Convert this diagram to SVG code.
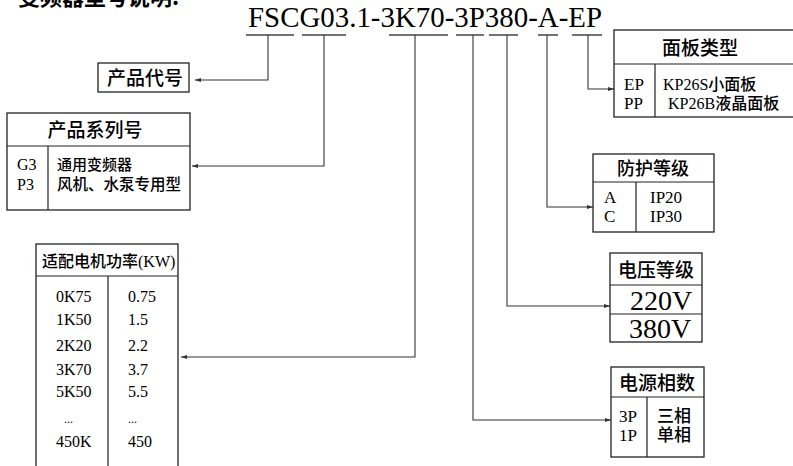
<svg xmlns="http://www.w3.org/2000/svg" width="793" height="466" viewBox="0 0 793 466">
<style>
.bg{fill:#fff}
.box{fill:#fff;stroke:#222;stroke-width:1.3}
.ln{stroke:#222;stroke-width:1.2;fill:none}
.cn{stroke:#333;stroke-width:1.1;fill:none}
.ul{stroke:#444;stroke-width:1.3;fill:none}
.cjk{font-family:"Noto Sans CJK SC","Noto Sans",sans-serif;fill:#000;font-weight:500}
.tm{font-family:"Liberation Serif","Noto Sans CJK SC",serif;fill:#000}
</style>
<defs>
<marker id="arr" viewBox="0 0 6 6" refX="6" refY="3" markerWidth="6" markerHeight="6" markerUnits="userSpaceOnUse" orient="auto">
<path d="M0,1 L6,3 L0,5 Z" fill="#333"/>
</marker>
</defs>
<rect class="bg" x="0" y="0" width="793" height="466"/>
<g id="title">
<text class="cjk" x="18" y="5" font-size="22" font-weight="bold" style="font-weight:bold">变频器型号说明:</text>
</g>
<g id="code">
<text class="tm" x="248" y="27" font-size="29" textLength="354" lengthAdjust="spacingAndGlyphs">FSCG03.1-3K70-3P380-A-EP</text>
<path class="ul" d="M246,35H294 M302,35H346 M389,35H448 M456,35H484 M489,35H518 M538,35H558 M572,35H602"/>
</g>
<g id="connectors">
<path class="cn" d="M268,35V80H195" marker-end="url(#arr)"/>
<path class="cn" d="M324,35V166H192" marker-end="url(#arr)"/>
<path class="cn" d="M415,35V357H181" marker-end="url(#arr)"/>
<path class="cn" d="M473,35V420H611" marker-end="url(#arr)"/>
<path class="cn" d="M507,35V306H610" marker-end="url(#arr)"/>
<path class="cn" d="M547,35V207H593" marker-end="url(#arr)"/>
<path class="cn" d="M588,35V89H614" marker-end="url(#arr)"/>
</g>
<g id="product-code">
<rect class="box" x="98" y="63" width="91" height="29"/>
<text class="cjk" x="107" y="85" font-size="19">产品代号</text>
</g>
<g id="series">
<rect class="box" x="7" y="113" width="183" height="97"/>
<path class="ln" d="M7,146H190 M48,146V210"/>
<text class="cjk" x="95" y="137" font-size="19" text-anchor="middle">产品系列号</text>
<text class="tm" x="17" y="170" font-size="16">G3</text>
<text class="tm" x="17" y="190" font-size="16">P3</text>
<text class="cjk" x="57" y="170" font-size="15">通用变频器</text>
<text class="cjk" x="57" y="190" font-size="15.5">风机、水泵专用型</text>
</g>
<g id="power">
<rect class="box" x="36" y="244" width="142" height="240"/>
<path class="ln" d="M36,276H178 M108,276V470"/>
<text x="42" y="267" font-size="16"><tspan class="cjk">适配电机功率</tspan><tspan class="tm">(KW)</tspan></text>
<g class="tm" font-size="16">
<text x="56" y="302">0K75</text><text x="128" y="302">0.75</text>
<text x="56" y="325">1K50</text><text x="128" y="325">1.5</text>
<text x="56" y="351">2K20</text><text x="128" y="351">2.2</text>
<text x="56" y="375">3K70</text><text x="128" y="375">3.7</text>
<text x="56" y="397">5K50</text><text x="128" y="397">5.5</text>
<text x="64" y="423" font-size="12">...</text><text x="128" y="423" font-size="12">...</text>
<text x="56" y="447">450K</text><text x="128" y="447">450</text>
</g>
</g>
<g id="panel">
<rect class="box" x="614" y="30" width="190" height="87"/>
<path class="ln" d="M614,64H804 M655,64V117"/>
<text class="cjk" x="700" y="55" font-size="19" text-anchor="middle">面板类型</text>
<text class="tm" x="624" y="90" font-size="17">EP</text>
<text class="tm" x="624" y="109" font-size="17">PP</text>
<text x="663" y="90" font-size="16"><tspan class="tm">KP26S</tspan><tspan class="cjk">小面板</tspan></text>
<text x="668" y="109" font-size="16"><tspan class="tm">KP26B</tspan><tspan class="cjk">液晶面板</tspan></text>
</g>
<g id="protection">
<rect class="box" x="593" y="154" width="121" height="78"/>
<path class="ln" d="M593,182H714 M636,182V232"/>
<text class="cjk" x="653" y="175" font-size="18" text-anchor="middle">防护等级</text>
<text class="tm" x="604" y="203" font-size="17">A</text>
<text class="tm" x="604" y="222" font-size="17">C</text>
<text class="tm" x="650" y="203" font-size="17">IP20</text>
<text class="tm" x="650" y="222" font-size="17">IP30</text>
</g>
<g id="voltage">
<rect class="box" x="610" y="253" width="92" height="89"/>
<path class="ln" d="M610,285H702 M610,314H702"/>
<text class="cjk" x="656" y="277" font-size="19" text-anchor="middle">电压等级</text>
<text class="tm" x="661" y="310" font-size="28" text-anchor="middle">220V</text>
<text class="tm" x="660" y="338" font-size="28" text-anchor="middle">380V</text>
</g>
<g id="phase">
<rect class="box" x="611" y="367" width="93" height="90"/>
<path class="ln" d="M611,397H704 M647,397V457"/>
<text class="cjk" x="657" y="390" font-size="19" text-anchor="middle">电源相数</text>
<text class="tm" x="619" y="422" font-size="17">3P</text>
<text class="tm" x="619" y="441" font-size="17">1P</text>
<text class="cjk" x="657" y="422" font-size="17">三相</text>
<text class="cjk" x="657" y="441" font-size="17">单相</text>
</g>
</svg>
